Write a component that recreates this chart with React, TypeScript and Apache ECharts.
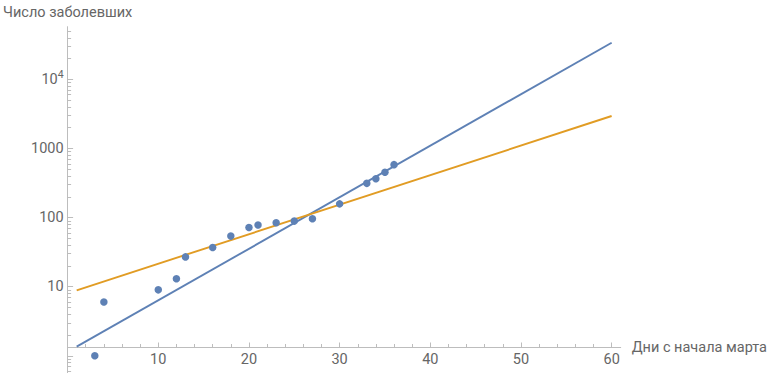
import React, { useEffect, useRef } from "react";
import * as echarts from "echarts";

// Days since the start of March and number of cases
const days = [3, 4, 10, 12, 13, 16, 18, 20, 21, 23, 25, 27, 30, 33, 34, 35, 36];
const cases = [1, 6, 9, 13, 27, 37, 54, 72, 78, 84, 89, 96, 158, 313, 366, 453, 584];

// Fitted lines (end points)
const fitDays = [1, 60];
const blueFit = [1.355, 33960];
const orangeFit = [8.87, 2951];

// Axis ticks
const xTickValues = [10, 20, 30, 40, 50, 60];
const yLabelValues = [10, 100, 1000, 10000];
const yMajorTicks = [1, 10, 100, 1000, 10000];
const yMinorTicks = [
  0.6, 0.7, 0.8, 0.9,
  2, 3, 4, 5, 6, 7, 8, 9,
  20, 30, 40, 50, 60, 70, 80, 90,
  200, 300, 400, 500, 600, 700, 800, 900,
  2000, 3000, 4000, 5000, 6000, 7000, 8000, 9000,
  20000, 30000, 40000, 50000,
];

const xName = "Дни с начала марта";
const yName = "Число заболевших";

const BLUE = "#5E81B5";
const ORANGE = "#E19C24";
const AXIS = "#bdbdbd";
const TEXT = "#666666";
const FONT = "Roboto";
const FS = 14.5;

const Y_MIN = 0.5638;
const Y_MAX = 57900;

export default function App() {
  const ref = useRef<HTMLDivElement>(null);
  useEffect(() => {
    if (!ref.current) return;
    const chart = echarts.init(ref.current, undefined, { renderer: "svg" });
    const option: any = {
      animation: false,
      backgroundColor: "#ffffff",
      textStyle: { fontFamily: FONT },
      grid: { left: 65.3, top: 26.7, width: 555.4, height: 346.3, containLabel: false },
      xAxis: {
        type: "value",
        min: 0,
        max: 61,
        interval: 10,
        position: "bottom",
        offset: -26,
        name: xName,
        nameLocation: "end",
        nameGap: 11,
        nameTextStyle: { color: TEXT, fontSize: FS, fontFamily: FONT, verticalAlign: "middle", align: "left" },
        axisLine: { show: true, lineStyle: { color: AXIS, width: 1 } },
        axisTick: { show: true, inside: true, length: 4.5, customValues: xTickValues, lineStyle: { color: AXIS } },
        minorTick: { show: true, splitNumber: 5, length: 3, lineStyle: { color: AXIS } },
        axisLabel: { show: true, customValues: xTickValues, color: TEXT, fontSize: FS, fontFamily: FONT, margin: 5 },
        splitLine: { show: false },
      },
      yAxis: [
        {
          type: "log",
          min: Y_MIN,
          max: Y_MAX,
          position: "left",
          offset: 0,
          name: yName,
          nameLocation: "end",
          nameGap: 14,
          nameTextStyle: { color: TEXT, fontSize: FS, fontFamily: FONT, verticalAlign: "middle", align: "center" },
          axisLine: { show: true, lineStyle: { color: AXIS, width: 1 } },
          axisTick: { show: true, inside: true, length: 5.5, customValues: yMajorTicks, lineStyle: { color: AXIS } },
          axisLabel: {
            show: true,
            customValues: yLabelValues,
            color: TEXT,
            fontSize: FS,
            fontFamily: FONT,
            margin: 4,
            formatter: (v: number) => (v >= 10000 ? "{b|10}{s|" + Math.round(Math.log10(v)) + "}" : String(v)),
            rich: {
              b: { color: TEXT, fontSize: FS, fontFamily: FONT },
              s: { color: TEXT, fontSize: 10.5, fontFamily: FONT, padding: [0, 0, 9, 0] },
            },
          },
          splitLine: { show: false },
        },
        {
          type: "log",
          min: Y_MIN,
          max: Y_MAX,
          position: "left",
          offset: 0,
          axisLine: { show: false },
          axisTick: { show: true, inside: true, length: 3.5, customValues: yMinorTicks, lineStyle: { color: AXIS } },
          axisLabel: { show: false },
          splitLine: { show: false },
        },
      ],
      series: [
        {
          type: "line",
          data: fitDays.map((d, i) => [d, blueFit[i]]),
          showSymbol: false,
          symbol: "none",
          lineStyle: { color: BLUE, width: 1.9 },
          itemStyle: { color: BLUE },
          z: 2,
        },
        {
          type: "line",
          data: fitDays.map((d, i) => [d, orangeFit[i]]),
          showSymbol: false,
          symbol: "none",
          lineStyle: { color: ORANGE, width: 1.9 },
          itemStyle: { color: ORANGE },
          z: 2,
        },
        {
          type: "scatter",
          data: days.map((d, i) => [d, cases[i]]),
          symbol: "circle",
          symbolSize: 7.5,
          clip: false,
          itemStyle: { color: BLUE, opacity: 1 },
          z: 3,
        },
      ],
    };
    chart.setOption(option);
    return () => chart.dispose();
  }, []);
  return (
    <div
      ref={ref}
      style={{ position: "fixed", left: 0, top: 0, width: 770, height: 373, background: "#fff" }}
    />
  );
}
